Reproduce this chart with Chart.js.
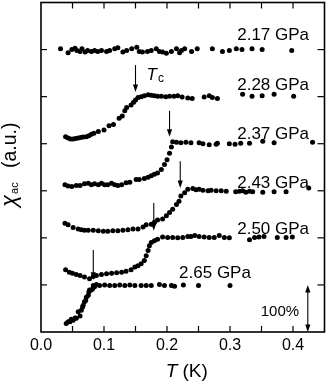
<!DOCTYPE html>
<html><head><meta charset="utf-8">
<script src="https://cdn.jsdelivr.net/npm/chart.js@4.4.1/dist/chart.umd.min.js"></script>
<style>html,body{margin:0;padding:0;background:#fff}</style>
</head><body>
<canvas id="c" width="327" height="385"></canvas>
<script>
// ---- data (T in K, chi_ac in arbitrary offset units; one unit = 100%) ----
const pressures = ['2.17 GPa','2.28 GPa','2.37 GPa','2.43 GPa','2.50 GPa','2.65 GPa'];

const t217 = [0.031,0.043,0.049,0.054,0.057,0.062,0.065,0.070,0.074,0.080,0.085,0.090,0.096,0.104,0.109,0.117,0.122,0.130,0.136,0.144,0.152,0.156,0.161,0.169,0.175,0.183,0.188,0.193,0.199,0.207,0.215,0.220,0.223,0.228,0.239,0.248,0.272,0.288,0.299,0.310,0.319,0.335,0.351,0.398];
const v217 = [6.02,5.93,6.00,6.03,5.98,5.96,6.02,5.95,5.98,5.96,5.98,5.96,5.98,5.96,5.98,6.02,6.04,5.95,5.98,6.02,6.05,5.96,5.95,5.96,5.98,6.02,5.96,5.95,5.92,5.96,6.02,5.93,5.98,6.02,5.96,6.02,6.02,5.96,5.98,6.02,6.00,6.02,6.00,5.98];

const t228 = [0.039,0.043,0.047,0.051,0.055,0.059,0.063,0.067,0.072,0.076,0.080,0.084,0.091,0.100,0.108,0.115,0.124,0.129,0.133,0.136,0.143,0.147,0.150,0.154,0.159,0.164,0.170,0.175,0.180,0.185,0.191,0.198,0.204,0.211,0.217,0.224,0.233,0.240,0.259,0.267,0.272,0.280,0.320,0.335,0.351,0.370,0.401];
const v228 = [4.15,4.12,4.10,4.10,4.11,4.12,4.13,4.14,4.15,4.17,4.20,4.22,4.26,4.29,4.38,4.41,4.54,4.59,4.70,4.77,4.82,4.88,4.93,4.98,5.00,5.02,5.04,5.03,5.02,5.01,5.01,5.00,5.01,5.01,5.02,4.99,4.97,4.96,4.99,5.02,4.98,4.96,5.05,5.01,5.02,5.05,5.01];

const t237 = [0.038,0.043,0.049,0.056,0.062,0.069,0.075,0.080,0.085,0.091,0.096,0.101,0.106,0.112,0.117,0.122,0.128,0.135,0.141,0.151,0.156,0.164,0.170,0.175,0.180,0.185,0.191,0.196,0.200,0.204,0.207,0.209,0.215,0.222,0.230,0.238,0.251,0.257,0.267,0.278,0.280,0.299,0.308,0.317,0.331,0.352,0.370,0.431];
const v237 = [3.13,3.10,3.09,3.11,3.11,3.15,3.16,3.13,3.15,3.13,3.16,3.13,3.13,3.16,3.13,3.11,3.13,3.17,3.18,3.24,3.24,3.26,3.29,3.32,3.35,3.38,3.45,3.56,3.66,3.80,3.93,4.04,4.03,4.02,4.03,4.02,4.02,4.00,3.98,3.99,4.01,4.00,3.99,4.01,4.01,4.05,4.02,4.03];

const t243 = [0.038,0.043,0.051,0.059,0.064,0.069,0.075,0.083,0.091,0.099,0.106,0.114,0.122,0.130,0.138,0.146,0.154,0.162,0.167,0.175,0.180,0.185,0.193,0.199,0.204,0.209,0.215,0.219,0.222,0.228,0.233,0.241,0.246,0.251,0.257,0.265,0.270,0.278,0.286,0.294,0.309,0.315,0.320,0.325,0.331,0.336,0.352,0.370,0.389,0.425];
const v243 = [2.31,2.28,2.22,2.19,2.17,2.16,2.16,2.16,2.15,2.14,2.14,2.15,2.15,2.16,2.17,2.19,2.19,2.23,2.28,2.29,2.33,2.38,2.40,2.47,2.54,2.61,2.71,2.78,2.89,2.96,3.03,3.05,3.02,3.03,3.01,3.00,3.01,3.00,3.00,2.99,2.98,2.99,3.00,2.97,2.99,2.98,2.97,2.98,2.98,3.06];

const t250 = [0.039,0.045,0.050,0.056,0.062,0.069,0.077,0.083,0.088,0.096,0.104,0.112,0.120,0.128,0.135,0.143,0.149,0.154,0.159,0.164,0.167,0.170,0.172,0.175,0.180,0.185,0.193,0.201,0.209,0.217,0.225,0.233,0.238,0.244,0.251,0.259,0.267,0.275,0.283,0.291,0.299,0.331,0.339,0.346,0.354,0.375,0.389,0.399];
const v250 = [1.32,1.27,1.25,1.22,1.20,1.17,1.13,1.18,1.20,1.22,1.24,1.25,1.26,1.27,1.29,1.32,1.38,1.41,1.45,1.52,1.62,1.73,1.83,1.90,1.94,1.97,2.02,2.01,2.01,2.00,2.01,2.03,2.03,2.05,2.03,2.02,2.01,2.01,2.05,2.01,2.00,1.96,2.01,2.02,2.03,2.01,2.01,2.02];

const t265 = [0.040,0.043,0.046,0.048,0.051,0.054,0.056,0.059,0.062,0.064,0.066,0.067,0.069,0.071,0.072,0.075,0.076,0.077,0.080,0.082,0.083,0.085,0.088,0.093,0.101,0.109,0.117,0.125,0.133,0.141,0.149,0.159,0.167,0.175,0.188,0.196,0.207,0.212,0.226,0.250,0.300];
const v265 = [0.18,0.22,0.22,0.27,0.25,0.30,0.29,0.43,0.34,0.46,0.53,0.57,0.64,0.67,0.74,0.78,0.85,0.89,0.89,0.92,0.99,0.96,1.01,0.99,1.00,0.99,0.99,1.00,0.99,1.00,0.99,0.99,0.99,0.99,1.01,0.99,0.99,0.97,1.00,0.99,0.99];

// Tc arrows (T, top of arrow, tip of arrow) for 2.28 ... 2.65 GPa
const arrowT   = [0.150,0.204,0.221,0.179,0.083];
const arrowTop = [5.67,4.70,3.63,2.74,1.74];
const arrowTip = [5.10,4.15,3.06,2.15,1.11];

// pressure label anchors (right edge T, baseline value)
const labelT = [0.4255,0.4255,0.4255,0.4255,0.4255,0.3332];
const labelV = [6.21,5.14,4.11,3.06,2.09,1.14];

// axis ticks
const xTickStep = 0.1;
const xMinorTicks = [0.05,0.10,0.15,0.20,0.25,0.30,0.35,0.40];
const yTickVals = [1,2,3,4,5,6];

const FONT = "'Liberation Sans', Arial, Helvetica, sans-serif";

const series = [[t217,v217],[t228,v228],[t237,v237],[t243,v243],[t250,v250],[t265,v265]];
const datasets = series.map((s,k)=>({
  label: pressures[k],
  data: s[0].map((t,i)=>({x:t,y:s[1][i]})),
  showLine:false, pointRadius:2.5, pointHoverRadius:2.5,
  backgroundColor:'#000', borderColor:'#000', borderWidth:0
}));

function line(ctx,x1,y1,x2,y2){ctx.beginPath();ctx.moveTo(x1,y1);ctx.lineTo(x2,y2);ctx.stroke();}
function head(ctx,x,y,dir){ // dir=+1 pointing down, -1 pointing up
  ctx.beginPath();ctx.moveTo(x,y);ctx.lineTo(x-2.6,y-7.5*dir);ctx.lineTo(x+2.6,y-7.5*dir);ctx.closePath();ctx.fill();
}

const ink = {
  id:'ink',
  afterDatasetsDraw(chart){
    const {ctx, chartArea:a, scales:{x,y}} = chart;
    ctx.save();
    ctx.strokeStyle='#000'; ctx.fillStyle='#000';
    // inward ticks
    ctx.lineWidth=1.2;
    xMinorTicks.forEach(t=>{const px=x.getPixelForValue(t); line(ctx,px,a.bottom,px,a.bottom-6); line(ctx,px,a.top,px,a.top+6);});
    yTickVals.forEach(v=>{const py=y.getPixelForValue(v); line(ctx,a.left,py,a.left+6,py); line(ctx,a.right,py,a.right-7,py);});
    // frame
    ctx.lineWidth=1.6;
    ctx.strokeRect(a.left,a.top,a.right-a.left,a.bottom-a.top);
    // Tc arrows
    ctx.lineWidth=1.1;
    arrowT.forEach((t,i)=>{
      const px=x.getPixelForValue(t), p1=y.getPixelForValue(arrowTop[i]), p2=y.getPixelForValue(arrowTip[i]);
      line(ctx,px,p1,px,p2-5); head(ctx,px,p2,1);
    });
    // pressure labels
    ctx.textBaseline='alphabetic'; ctx.textAlign='right';
    ctx.font='17px '+FONT;
    pressures.forEach((p,i)=>ctx.fillText(p,x.getPixelForValue(labelT[i]),y.getPixelForValue(labelV[i])));
    // Tc label
    ctx.textAlign='left';
    const tcx=x.getPixelForValue(0.1676), tcy=y.getPixelForValue(5.355);
    ctx.font='italic 17px '+FONT; ctx.fillText('T',tcx,tcy);
    const tw=ctx.measureText('T').width;
    ctx.font='12px '+FONT; ctx.fillText('c',tcx+tw+1,tcy+2);
    // 100% scale bar
    const bx=x.getPixelForValue(0.4235), b1=y.getPixelForValue(1.0), b0=y.getPixelForValue(0.0);
    line(ctx,bx,b1+5,bx,b0-5); head(ctx,bx,b1,-1); head(ctx,bx,b0,1);
    ctx.textAlign='right'; ctx.font='15px '+FONT;
    ctx.fillText('100%',x.getPixelForValue(0.4097),y.getPixelForValue(0.337));
    // x title
    ctx.textAlign='left';
    const cx=(a.left+a.right)/2;
    ctx.font='italic 19px '+FONT; const wT=ctx.measureText('T').width;
    ctx.font='19px '+FONT; const wK=ctx.measureText(' (K)').width;
    const sx=cx+4-(wT+wK)/2, sy=a.bottom+45;
    ctx.font='italic 19px '+FONT; ctx.fillText('T',sx,sy);
    ctx.font='19px '+FONT; ctx.fillText(' (K)',sx+wT,sy);
    // y title (rotated)
    ctx.translate(16,207); ctx.rotate(-Math.PI/2);
    ctx.font='italic 22px '+FONT; ctx.fillText('\u03c7',0,0);
    const wc=ctx.measureText('\u03c7').width;
    ctx.font='11px '+FONT; ctx.fillText('ac',wc+1,1.5);
    ctx.font='19.5px '+FONT; ctx.fillText('(a.u.)',39,0);
    ctx.restore();
  }
};

new Chart(document.getElementById('c'),{
  type:'scatter',
  data:{datasets},
  options:{
    responsive:false, animation:false, devicePixelRatio:1,
    layout:{padding:{top:1,right:1,left:0,bottom:0}},
    plugins:{legend:{display:false},tooltip:{enabled:false}},
    scales:{
      x:{type:'linear',min:0,max:0.45,
         grid:{display:false,drawTicks:false},border:{display:false},
         ticks:{stepSize:xTickStep,includeBounds:false,autoSkip:false,maxRotation:0,
                callback:v=>Number(v).toFixed(1),color:'#000',font:{family:FONT,size:16},padding:4},
         afterFit:s=>{s.height=53;}},
      y:{type:'linear',min:0,max:7,
         grid:{display:false,drawTicks:false},border:{display:false},
         ticks:{display:false},
         afterFit:s=>{s.width=41;}}
    }
  },
  plugins:[ink]
});
</script>
</body></html>
